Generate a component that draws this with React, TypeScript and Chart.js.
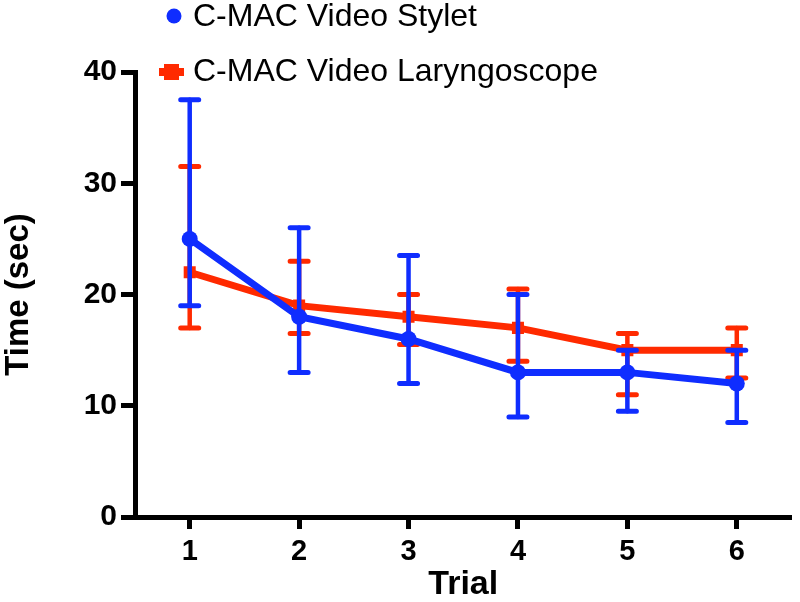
import React, { useEffect, useRef } from "react";
import { Chart, registerables } from "chart.js";

Chart.register(...registerables);

const trials = ["1", "2", "3", "4", "5", "6"];
const yTicks = [0, 10, 20, 30, 40];

const styletLabel = "C-MAC Video Stylet";
const styletMean = [25, 18, 16, 13, 13, 12];
const styletUpper = [37.5, 26, 23.5, 20, 15, 15];
const styletLower = [19, 13, 12, 9, 9.5, 8.5];

const laryngoLabel = "C-MAC Video Laryngoscope";
const laryngoMean = [22, 19, 18, 17, 15, 15];
const laryngoUpper = [31.5, 23, 20, 20.5, 16.5, 17];
const laryngoLower = [17, 16.5, 15.5, 14, 11, 12.5];

const BLUE = "#0f2dff";
const RED = "#ff2a00";
const FONT = '"Liberation Sans", Arial, Helvetica, sans-serif';

const errorBars = [
  { upper: styletUpper, lower: styletLower, color: BLUE },
  { upper: laryngoUpper, lower: laryngoLower, color: RED },
];

const errorBarPlugin = {
  id: "errorBars",
  beforeDatasetDraw(chart: any, args: any) {
    const eb = errorBars[args.index];
    if (!eb) return;
    const { ctx } = chart;
    const xScale = chart.scales.x;
    const yScale = chart.scales.y;
    ctx.save();
    ctx.strokeStyle = eb.color;
    ctx.lineCap = "round";
    for (let i = 0; i < trials.length; i++) {
      const x = xScale.getPixelForValue(i);
      const yt = yScale.getPixelForValue(eb.upper[i]);
      const yb = yScale.getPixelForValue(eb.lower[i]);
      ctx.lineWidth = 4.5;
      ctx.beginPath();
      ctx.moveTo(x, yt);
      ctx.lineTo(x, yb);
      ctx.stroke();
      ctx.lineWidth = 5;
      ctx.beginPath();
      ctx.moveTo(x - 9, yt);
      ctx.lineTo(x + 9, yt);
      ctx.moveTo(x - 9, yb);
      ctx.lineTo(x + 9, yb);
      ctx.stroke();
    }
    ctx.restore();
  },
};

const legendPlugin = {
  id: "customLegend",
  afterDraw(chart: any) {
    const { ctx } = chart;
    ctx.save();
    ctx.fillStyle = BLUE;
    ctx.beginPath();
    ctx.arc(174, 16, 7.5, 0, Math.PI * 2);
    ctx.fill();
    ctx.strokeStyle = RED;
    ctx.lineWidth = 8;
    ctx.beginPath();
    ctx.moveTo(159, 72);
    ctx.lineTo(184, 72);
    ctx.stroke();
    ctx.fillStyle = RED;
    ctx.fillRect(164, 64, 15, 16);
    ctx.fillStyle = "#000";
    ctx.font = `32px ${FONT}`;
    ctx.textBaseline = "middle";
    ctx.textAlign = "left";
    ctx.fillText(styletLabel, 193, 17);
    ctx.fillText(laryngoLabel, 193, 72);
    ctx.restore();
  },
};

export default function App() {
  const ref = useRef<HTMLCanvasElement>(null);
  useEffect(() => {
    if (!ref.current) return;
    const chart = new Chart(ref.current, {
      type: "line",
      data: {
        labels: trials,
        datasets: [
          {
            label: styletLabel,
            data: styletMean,
            borderColor: BLUE,
            backgroundColor: BLUE,
            borderWidth: 7,
            pointStyle: "circle",
            pointRadius: 8,
            pointBorderWidth: 0,
            tension: 0,
          },
          {
            label: laryngoLabel,
            data: laryngoMean,
            borderColor: RED,
            backgroundColor: RED,
            borderWidth: 7,
            pointStyle: "rect",
            pointRadius: 8.5,
            pointBorderWidth: 0,
            tension: 0,
          },
        ],
      },
      options: {
        animation: false,
        responsive: true,
        maintainAspectRatio: false,
        layout: { padding: { top: 72, right: -4, left: 0, bottom: 0 } },
        plugins: {
          legend: { display: false },
          tooltip: { enabled: false },
        },
        scales: {
          x: {
            type: "category",
            offset: true,
            grid: {
              display: true,
              drawOnChartArea: false,
              drawTicks: true,
              tickLength: 12,
              tickWidth: 5,
              tickColor: "#000",
              offset: false,
            },
            border: { display: true, color: "#000", width: 5 },
            ticks: {
              color: "#000",
              padding: 6,
              font: { family: FONT, size: 29, weight: "bold" },
            },
            title: {
              display: true,
              text: "Trial",
              color: "#000",
              padding: { top: 0, bottom: 0 },
              font: { family: FONT, size: 34, weight: "bold", lineHeight: 1 },
            },
            afterFit(s: any) {
              s.height = 85;
            },
          },
          y: {
            min: 0,
            max: 40,
            afterBuildTicks(s: any) {
              s.ticks = yTicks.map((v) => ({ value: v }));
            },
            grid: {
              display: true,
              drawOnChartArea: false,
              drawTicks: true,
              tickLength: 14,
              tickWidth: 5,
              tickColor: "#000",
            },
            border: { display: true, color: "#000", width: 5 },
            ticks: {
              color: "#000",
              padding: 4,
              font: { family: FONT, size: 30, weight: "bold" },
            },
            title: {
              display: true,
              text: "Time (sec)",
              color: "#000",
              padding: { top: 2, bottom: 0 },
              font: { family: FONT, size: 33, weight: "bold", lineHeight: 1 },
            },
            afterFit(s: any) {
              s.width = 135;
            },
          },
        },
      },
      plugins: [errorBarPlugin, legendPlugin],
    });
    return () => chart.destroy();
  }, []);

  return (
    <div style={{ position: "absolute", left: 0, top: 0, width: 800, height: 602, background: "#fff" }}>
      <canvas ref={ref} />
    </div>
  );
}
